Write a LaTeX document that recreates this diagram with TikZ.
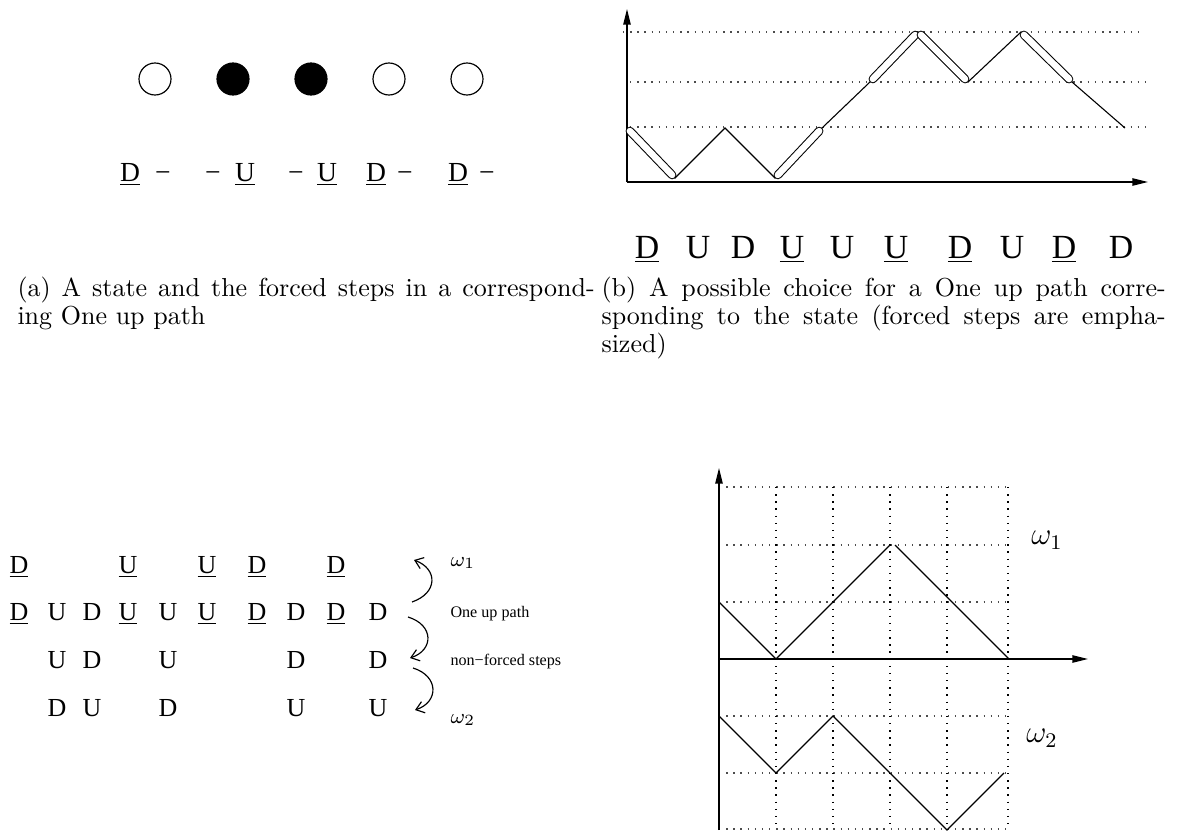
\documentclass[tikz,border=0pt]{standalone}
\usepackage{fontspec}
\newfontfamily\tms{Liberation Serif}
\usetikzlibrary{arrows.meta}
\begin{document}
\begin{tikzpicture}[x=0.3846pt,y=-0.3846pt,
  lab/.style={font=\tms\fontsize{10}{12}\selectfont, anchor=base, inner sep=0pt},
  laba/.style={font=\tms\fontsize{10.6}{12}\selectfont, anchor=base, inner sep=0pt},
  bigl/.style={font=\tms\fontsize{13}{15}\selectfont, anchor=base, inner sep=0pt},
  small/.style={font=\tms\fontsize{6.2}{7}\selectfont, anchor=west, inner sep=0pt},
  omsmall/.style={font=\fontsize{8}{9}\selectfont, anchor=west, inner sep=0pt},
  ombig/.style={font=\fontsize{11.5}{13}\selectfont, inner sep=0pt},
  capt/.style={font=\fontsize{10}{12}\selectfont, anchor=base west, inner sep=0pt},
  site/.style={circle, draw, line width=0.45pt, minimum size=12.3pt, inner sep=0pt},
  occ/.style={site, fill=black},
  thin/.style={line width=0.42pt},
  axis/.style={line width=0.55pt, -{Triangle[length=6pt,width=2.8pt]}},
  dotline/.style={line width=0.55pt, dash pattern=on 0.55pt off 2.2pt},
  hdot/.style={dotline, black!70},
  capout/.style={line width=3.3pt, line cap=round, shorten <=1.6pt, shorten >=1.6pt},
  capin/.style={white, line width=2.5pt, line cap=round, shorten <=1.6pt, shorten >=1.6pt},
  bendarrow/.style={line width=0.45pt, -{Straight Barb[length=3pt,width=4.5pt]}}
]
\useasboundingbox (0,0) rectangle (1182,832);

% ---------------- panel (a) ----------------
\node[site] (s1) at (155,79) {};
\node[occ]  (s2) at (233,79) {};
\node[occ]  (s3) at (311,79) {};
\node[site] (s4) at (389,79) {};
\node[site] (s5) at (467,79) {};

\node[laba] (a1) at (130,181) {\underline{D}};
\node[laba] (a1d) at (163,181) {−};
\node[laba] (a2d) at (213,181) {−};
\node[laba] (a2) at (245,181) {\underline{U}};
\node[laba] (a3d) at (296,181) {−};
\node[laba] (a3) at (327,181) {\underline{U}};
\node[laba] (a4) at (376,181) {\underline{D}};
\node[laba] (a4d) at (405,181) {−};
\node[laba] (a5) at (458,181) {\underline{D}};
\node[laba] (a5d) at (487,181) {−};

% ---------------- panel (b) ----------------
\coordinate (bo) at (627,182);
\coordinate (bytop) at (627,9);
\coordinate (bxend) at (1148,182);
\draw[hdot] (623,32) -- (1143,32);
\draw[hdot] (630,82) -- (1148,82);
\draw[hdot] (630,127) -- (1148,127);
\draw[axis] (bo) -- (bytop);
\draw[axis] (bo) -- (bxend);

\coordinate (p0) at (627,128);
\coordinate (p1) at (675,178);
\coordinate (p2) at (725,128);
\coordinate (p3) at (775,178);
\coordinate (p4) at (822,128);
\coordinate (p5) at (870,82);
\coordinate (p6) at (918,32);
\coordinate (p7) at (968,82);
\coordinate (p8) at (1021,32);
\coordinate (p9) at (1072,82);
\coordinate (p10) at (1125,128);
\draw[thin] (p0) -- (p1) -- (p2) -- (p3) -- (p4) -- (p5) -- (p6) -- (p7) -- (p8) -- (p9) -- (p10);
\foreach \u/\v in {p0/p1,p3/p4,p5/p6,p6/p7,p8/p9}{
  \draw[capout] (\u) -- (\v);
  \draw[capin] (\u) -- (\v);
}

\node[bigl] (b1) at (647,258) {\underline{D}};
\node[bigl] (b2) at (698,258) {U};
\node[bigl] (b3) at (743,258) {D};
\node[bigl] (b4) at (792,258) {\underline{U}};
\node[bigl] (b5) at (842,258) {U};
\node[bigl] (b6) at (896,258) {\underline{U}};
\node[bigl] (b7) at (960,258) {\underline{D}};
\node[bigl] (b8) at (1012,258) {U};
\node[bigl] (b9) at (1064,258) {\underline{D}};
\node[bigl] (b10) at (1121,258) {D};

% ---------------- captions ----------------
\node[capt] (ca1) at (17,296) {\makebox[222pt][s]{(a) A state and the forced steps in a correspond-}};
\node[capt] (ca2) at (17,324) {ing One up path};
\node[capt] (cb1) at (601,296) {\makebox[217pt][s]{(b) A possible choice for a One up path corre-}};
\node[capt] (cb2) at (601,324) {\makebox[217pt][s]{sponding to the state (forced steps are empha-}};
\node[capt] (cb3) at (601,352) {sized)};

% ---------------- bottom left ----------------
% row 1
\node[lab] (r1c1) at (19,573) {\underline{D}};
\node[lab] (r1c4) at (128,573) {\underline{U}};
\node[lab] (r1c6) at (207,573) {\underline{U}};
\node[lab] (r1c7) at (257,573) {\underline{D}};
\node[lab] (r1c9) at (336,573) {\underline{D}};
% row 2
\node[lab] (r2c1) at (19,620) {\underline{D}};
\node[lab] (r2c2) at (57,620) {U};
\node[lab] (r2c3) at (92,620) {D};
\node[lab] (r2c4) at (128,620) {\underline{U}};
\node[lab] (r2c5) at (168,620) {U};
\node[lab] (r2c6) at (207,620) {\underline{U}};
\node[lab] (r2c7) at (257,620) {\underline{D}};
\node[lab] (r2c8) at (296,620) {D};
\node[lab] (r2c9) at (336,620) {\underline{D}};
\node[lab] (r2c10) at (378,620) {D};
% row 3
\node[lab] (r3c2) at (57,668) {U};
\node[lab] (r3c3) at (92,668) {D};
\node[lab] (r3c5) at (168,668) {U};
\node[lab] (r3c8) at (296,668) {D};
\node[lab] (r3c10) at (378,668) {D};
% row 4
\node[lab] (r4c2) at (57,716) {D};
\node[lab] (r4c3) at (92,716) {U};
\node[lab] (r4c5) at (168,716) {D};
\node[lab] (r4c8) at (296,716) {U};
\node[lab] (r4c10) at (378,716) {U};

\node[omsmall] (w1s) at (450,563) {$\omega_1$};
\node[small] (oup) at (450,614) {One up path};
\node[small] (nfs) at (450,662) {non−forced steps};
\node[omsmall] (w2s) at (450,720) {$\omega_2$};

\coordinate (e1s) at (412,602);
\coordinate (e1e) at (414,560);
\coordinate (e2s) at (408,617);
\coordinate (e2e) at (410,658);
\coordinate (e3s) at (413,668);
\coordinate (e3e) at (415,710);
\draw[bendarrow] (e1s) .. controls (438,593) and (438,569) .. (e1e);
\draw[bendarrow] (e2s) .. controls (434,625) and (434,650) .. (e2e);
\draw[bendarrow] (e3s) .. controls (439,676) and (439,702) .. (e3e);

% ---------------- bottom right ----------------
\foreach \yy in {487,545,602,716,773,829}{
  \draw[hdot] (719,\yy) -- (1008,\yy);
}
\foreach \xx in {776,833,890,947,1008}{
  \draw[dotline] (\xx,487) -- (\xx,830);
}
\coordinate (ybot) at (719,830);
\coordinate (ytop) at (719,468);
\coordinate (xo) at (719,659);
\coordinate (xend) at (1088,659);
\draw[axis] (ybot) -- (ytop);
\draw[axis] (xo) -- (xend);

\coordinate (q0) at (719,602);
\coordinate (q1) at (776,659);
\coordinate (q2) at (833,602);
\coordinate (q3) at (890,545);
\coordinate (q4) at (895,545);
\coordinate (q5) at (1009,659);
\draw[thin] (q0) -- (q1) -- (q2) -- (q3);
\draw[thin] (q4) -- (q5);

\coordinate (t0) at (719,716);
\coordinate (t1) at (776,773);
\coordinate (t2) at (833,716);
\coordinate (t3) at (890,773);
\coordinate (t4) at (947,830);
\coordinate (t5) at (1004,773);
\draw[thin] (t0) -- (t1) -- (t2) -- (t3) -- (t4) -- (t5);

\node[ombig] (w1) at (1047,540) {$\omega_1$};
\node[ombig] (w2) at (1042,738) {$\omega_2$};
\end{tikzpicture}
\end{document}
